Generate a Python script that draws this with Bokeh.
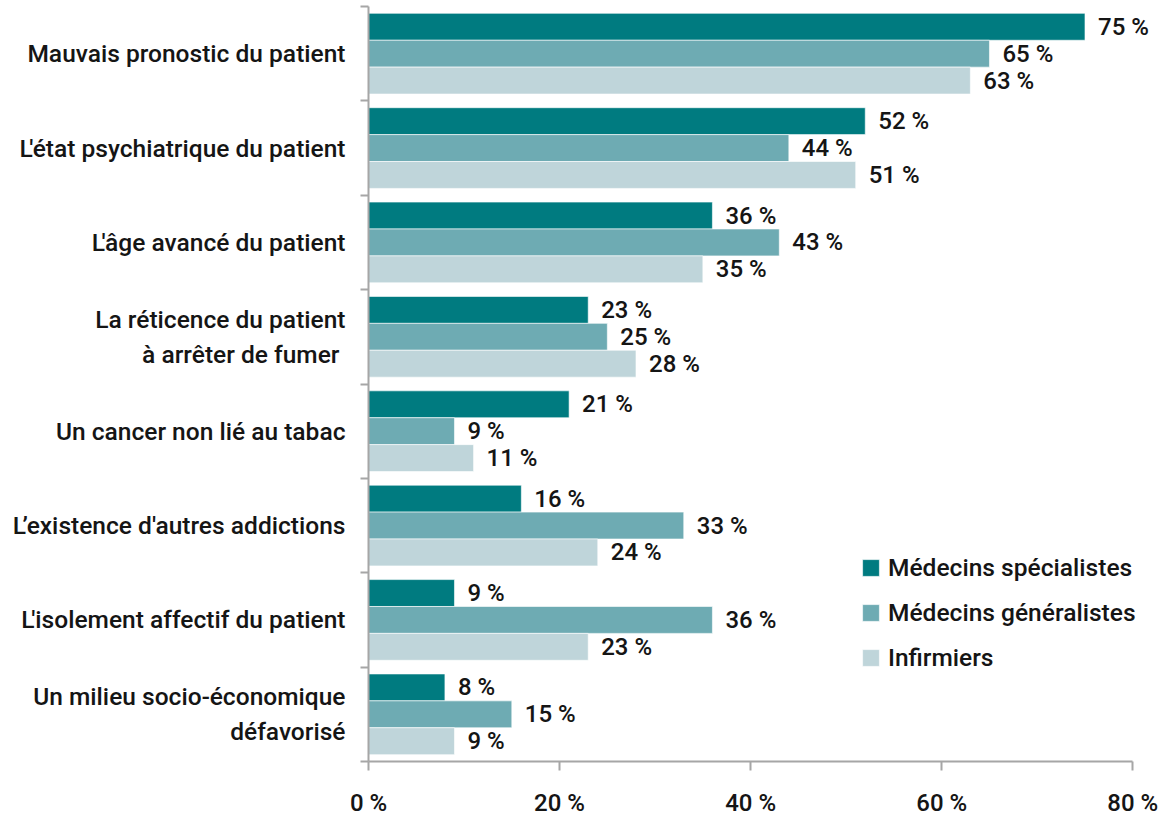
from bokeh.plotting import figure
from bokeh.models import LinearAxis, FixedTicker, Range1d, LabelSet, ColumnDataSource
from bokeh.core.properties import value
from bokeh.embed import file_html
from bokeh.resources import INLINE

categories = [
    "Mauvais pronostic du patient",
    "L'état psychiatrique du patient",
    "L'âge avancé du patient",
    "La réticence du patient\nà arrêter de fumer ",
    "Un cancer non lié au tabac",
    "L’existence d'autres addictions",
    "L'isolement affectif du patient",
    "Un milieu socio-économique\ndéfavorisé",
]
specialistes = [75, 52, 36, 23, 21, 16, 9, 8]
generalistes = [65, 44, 43, 25, 9, 33, 36, 15]
infirmiers = [63, 51, 35, 28, 11, 24, 23, 9]
series_names = ["Médecins spécialistes", "Médecins généralistes", "Infirmiers"]
colors = ["#007B80", "#6EABB3", "#BFD5DA"]
x_ticks = [0, 20, 40, 60, 80]

FONT = "Roboto Medium"
FS_CAT = "24.5px"
FS_VAL = "24px"
TXT = "#151515"
AXIS_COLOR = "#A6A6A6"
n = len(categories)
centers = [n - 0.5 - i for i in range(n)]
bar_h = 0.285
offsets = [bar_h, 0.0, -bar_h]

p = figure(width=1160, height=819, x_range=Range1d(0, 82.8), y_range=Range1d(0, n),
           output_backend="svg", toolbar_location=None,
           min_border_left=368, min_border_right=1, min_border_top=6, min_border_bottom=55,
           x_axis_location="below")
p.outline_line_color = None
p.xgrid.grid_line_color = None
p.ygrid.grid_line_color = None

for vals, name, col, off in zip([specialistes, generalistes, infirmiers], series_names, colors, offsets):
    ys = [c + off for c in centers]
    src = ColumnDataSource(dict(y=ys, v=vals, t=[f"{v} %" for v in vals]))
    p.hbar(y="y", left=0, right="v", height=bar_h, fill_color=col, line_color="white",
           line_width=0.6, legend_label=name, source=src)
    p.add_layout(LabelSet(x="v", y="y", text="t", source=src, x_offset=13,
                          text_baseline="middle", text_align="left", text_font=value(FONT),
                          text_font_size=value(FS_VAL), text_color=TXT))

# x axis
xa = p.xaxis[0]
xa.ticker = FixedTicker(ticks=x_ticks)
xa.bounds = (0, 80)
xa.major_label_overrides = {t: f"{t} %" for t in x_ticks}
xa.axis_line_color = AXIS_COLOR
xa.axis_line_width = 2
xa.major_tick_line_color = AXIS_COLOR
xa.major_tick_line_width = 2
xa.major_tick_out = 9
xa.major_tick_in = 0
xa.minor_tick_line_color = None
xa.major_label_standoff = 18
xa.major_label_text_font = FONT
xa.major_label_text_font_size = FS_VAL
xa.major_label_text_color = TXT

# y axis with boundary ticks
ya = p.yaxis[0]
ya.ticker = FixedTicker(ticks=list(range(n + 1)))
ya.major_label_overrides = {i: "" for i in range(n + 1)}
ya.axis_line_color = AXIS_COLOR
ya.axis_line_width = 2
ya.major_tick_line_color = AXIS_COLOR
ya.major_tick_line_width = 2
ya.major_tick_out = 8
ya.major_tick_in = 0
ya.minor_tick_line_color = None
ya.major_label_standoff = 0
ya.major_label_text_font_size = "1px"

# category label axis
la = LinearAxis(ticker=FixedTicker(ticks=centers),
                major_label_overrides={c: lab for c, lab in zip(centers, categories)})
la.axis_line_color = None
la.major_tick_line_color = None
la.minor_tick_line_color = None
la.major_label_standoff = 9
la.major_label_text_font = FONT
la.major_label_text_font_size = FS_CAT
la.major_label_text_color = TXT
p.add_layout(la, "left")

lg = p.legend[0]
lg.location = (492, 89)
lg.border_line_color = None
lg.background_fill_alpha = 0
lg.padding = 0
lg.margin = 0
lg.glyph_width = 21
lg.glyph_height = 21
lg.label_height = 24
lg.spacing = 16
lg.label_standoff = 7
lg.label_text_font = FONT
lg.label_text_font_size = FS_CAT
lg.label_text_color = TXT

open("out.html", "w").write(file_html(p, INLINE))
